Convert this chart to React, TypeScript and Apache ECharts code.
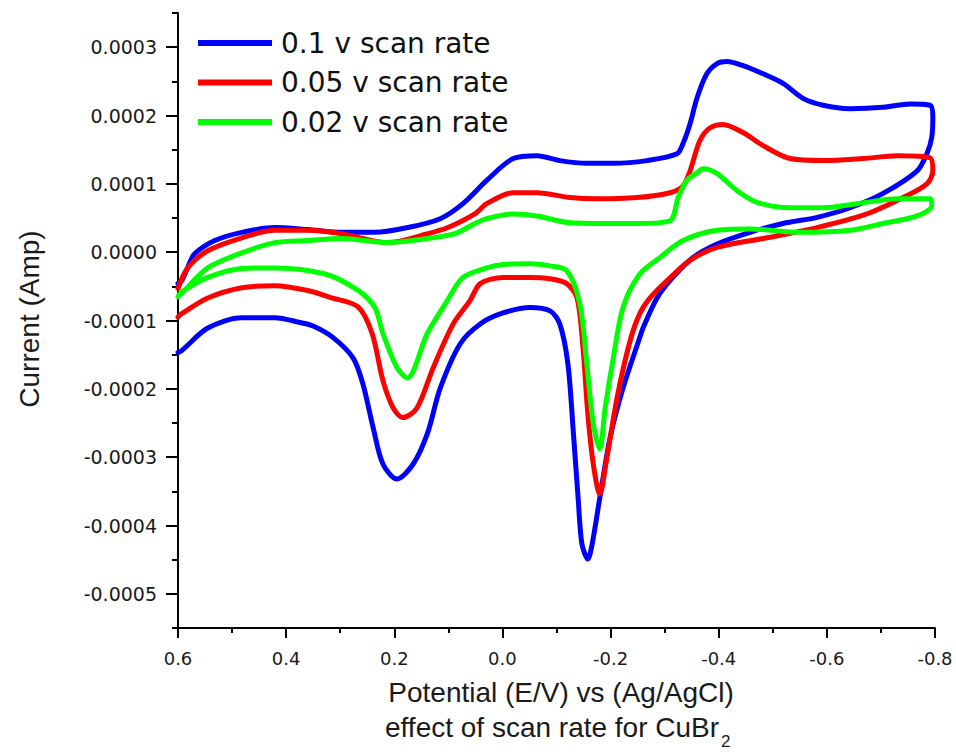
import React, { useEffect, useRef } from 'react';
import * as echarts from 'echarts';

const seriesNames = ['0.1 v scan rate', '0.05 v scan rate', '0.02 v scan rate'];
const seriesColors = ['#0000ff', '#ff0000', '#00ff00'];

// [potential (V), current (A)]
const scan01: [number, number][] = [
  [0.600, -0.46e-4], [0.593, -0.42e-4], [0.578, -0.15e-4], [0.569, -0.02e-4], [0.532, 0.17e-4],
  [0.482, 0.29e-4], [0.421, 0.36e-4], [0.360, 0.33e-4], [0.297, 0.29e-4], [0.236, 0.29e-4],
  [0.175, 0.36e-4], [0.115, 0.49e-4], [0.073, 0.71e-4], [0.029, 1.05e-4],
  [-0.020, 1.37e-4], [-0.064, 1.41e-4], [-0.106, 1.34e-4], [-0.156, 1.30e-4], [-0.205, 1.30e-4],
  [-0.267, 1.34e-4], [-0.323, 1.44e-4], [-0.334, 1.59e-4], [-0.347, 1.88e-4], [-0.360, 2.26e-4],
  [-0.378, 2.61e-4], [-0.397, 2.76e-4], [-0.415, 2.79e-4], [-0.445, 2.73e-4], [-0.482, 2.61e-4],
  [-0.519, 2.47e-4], [-0.556, 2.25e-4], [-0.593, 2.15e-4], [-0.643, 2.10e-4], [-0.704, 2.12e-4],
  [-0.754, 2.17e-4], [-0.791, 2.15e-4], [-0.796, 1.97e-4], [-0.794, 1.68e-4], [-0.785, 1.44e-4],
  [-0.767, 1.19e-4], [-0.704, 0.86e-4], [-0.643, 0.65e-4], [-0.582, 0.51e-4], [-0.519, 0.42e-4],
  [-0.458, 0.29e-4], [-0.397, 0.12e-4], [-0.352, -0.08e-4], [-0.315, -0.37e-4], [-0.286, -0.67e-4],
  [-0.260, -1.11e-4], [-0.254, -1.25e-4], [-0.223, -1.99e-4], [-0.199, -2.72e-4], [-0.180, -3.60e-4],
  [-0.166, -4.27e-4], [-0.158, -4.49e-4], [-0.147, -4.27e-4], [-0.140, -3.60e-4], [-0.131, -2.62e-4],
  [-0.121, -1.63e-4], [-0.106, -1.05e-4], [-0.088, -0.86e-4], [-0.051, -0.81e-4], [-0.001, -0.89e-4],
  [0.041, -1.05e-4], [0.078, -1.34e-4], [0.115, -1.99e-4], [0.139, -2.66e-4], [0.165, -3.10e-4],
  [0.195, -3.32e-4], [0.221, -3.10e-4], [0.239, -2.57e-4], [0.258, -1.93e-4], [0.276, -1.55e-4],
  [0.313, -1.25e-4], [0.350, -1.08e-4], [0.374, -1.03e-4], [0.421, -0.96e-4], [0.482, -0.96e-4],
  [0.545, -1.11e-4], [0.593, -1.44e-4], [0.600, -1.47e-4],
];

const scan005: [number, number][] = [
  [0.600, -0.53e-4], [0.582, -0.23e-4], [0.545, 0.02e-4], [0.482, 0.21e-4], [0.421, 0.32e-4],
  [0.360, 0.32e-4], [0.297, 0.27e-4], [0.212, 0.14e-4], [0.138, 0.27e-4], [0.101, 0.36e-4],
  [0.051, 0.56e-4], [0.029, 0.71e-4], [-0.020, 0.87e-4], [-0.064, 0.87e-4], [-0.125, 0.80e-4],
  [-0.175, 0.78e-4], [-0.249, 0.80e-4], [-0.310, 0.87e-4], [-0.334, 0.97e-4], [-0.347, 1.19e-4],
  [-0.365, 1.63e-4], [-0.384, 1.82e-4], [-0.408, 1.87e-4], [-0.445, 1.75e-4], [-0.482, 1.56e-4],
  [-0.532, 1.37e-4], [-0.593, 1.34e-4], [-0.667, 1.37e-4], [-0.730, 1.41e-4], [-0.791, 1.38e-4],
  [-0.796, 1.19e-4], [-0.785, 1.00e-4], [-0.741, 0.80e-4], [-0.674, 0.56e-4], [-0.582, 0.36e-4],
  [-0.489, 0.21e-4], [-0.397, 0.07e-4], [-0.347, -0.12e-4], [-0.304, -0.42e-4], [-0.273, -0.67e-4],
  [-0.254, -0.90e-4], [-0.236, -1.30e-4], [-0.212, -2.13e-4], [-0.193, -3.02e-4], [-0.180, -3.54e-4],
  [-0.168, -3.10e-4], [-0.158, -2.37e-4], [-0.149, -1.40e-4], [-0.138, -0.67e-4], [-0.119, -0.46e-4],
  [-0.088, -0.39e-4], [-0.051, -0.37e-4], [-0.001, -0.37e-4], [0.041, -0.46e-4], [0.060, -0.71e-4],
  [0.091, -1.05e-4], [0.128, -1.69e-4], [0.158, -2.28e-4], [0.184, -2.42e-4], [0.202, -2.28e-4],
  [0.221, -1.88e-4], [0.241, -1.19e-4], [0.267, -0.80e-4], [0.319, -0.66e-4], [0.360, -0.56e-4],
  [0.421, -0.49e-4], [0.482, -0.52e-4], [0.545, -0.67e-4], [0.593, -0.90e-4], [0.600, -0.95e-4],
];

const scan002: [number, number][] = [
  [0.600, -0.65e-4], [0.593, -0.60e-4], [0.545, -0.23e-4], [0.482, -0.01e-4], [0.421, 0.14e-4],
  [0.360, 0.17e-4], [0.297, 0.20e-4], [0.212, 0.14e-4], [0.138, 0.20e-4], [0.088, 0.27e-4],
  [0.051, 0.42e-4], [0.029, 0.49e-4], [-0.020, 0.56e-4], [-0.064, 0.53e-4], [-0.125, 0.43e-4],
  [-0.186, 0.42e-4], [-0.249, 0.42e-4], [-0.310, 0.46e-4], [-0.325, 0.80e-4], [-0.341, 1.05e-4],
  [-0.360, 1.16e-4], [-0.371, 1.22e-4], [-0.397, 1.15e-4], [-0.434, 0.90e-4], [-0.471, 0.73e-4],
  [-0.532, 0.65e-4], [-0.593, 0.65e-4], [-0.656, 0.71e-4], [-0.730, 0.78e-4], [-0.791, 0.78e-4],
  [-0.794, 0.68e-4], [-0.767, 0.53e-4], [-0.704, 0.42e-4], [-0.643, 0.32e-4], [-0.550, 0.29e-4],
  [-0.458, 0.34e-4], [-0.397, 0.32e-4], [-0.334, 0.17e-4], [-0.291, -0.08e-4], [-0.254, -0.32e-4],
  [-0.223, -0.81e-4], [-0.205, -1.55e-4], [-0.190, -2.28e-4], [-0.180, -2.88e-4], [-0.168, -2.51e-4],
  [-0.156, -1.63e-4], [-0.143, -0.75e-4], [-0.119, -0.27e-4], [-0.088, -0.20e-4], [-0.051, -0.17e-4],
  [-0.001, -0.18e-4], [0.029, -0.23e-4], [0.073, -0.37e-4], [0.102, -0.71e-4], [0.139, -1.19e-4],
  [0.176, -1.84e-4], [0.195, -1.69e-4], [0.221, -1.19e-4], [0.236, -0.81e-4], [0.267, -0.56e-4],
  [0.328, -0.32e-4], [0.421, -0.23e-4], [0.482, -0.24e-4], [0.545, -0.37e-4], [0.593, -0.58e-4],
  [0.600, -0.65e-4],
];

const yMajorTicks = [-0.0005, -0.0004, -0.0003, -0.0002, -0.0001, 0, 0.0001, 0.0002, 0.0003];
const xTitle = 'Potential (E/V) vs (Ag/AgCl)';
const xSubtitle = 'effect of scan rate for CuBr';
const yTitle = 'Current (Amp)';

export default function App() {
  const ref = useRef<HTMLDivElement>(null);
  useEffect(() => {
    if (!ref.current) return;
    const chart = echarts.init(ref.current, undefined, { renderer: 'svg' });
    const axisColor = '#000';
    const labelFont = { fontFamily: '"DejaVu Sans", Verdana, sans-serif', color: '#1a1a1a' };
    const titleFont = '"Liberation Sans", Arial, sans-serif';
    const datasets = [scan01, scan005, scan002];
    chart.setOption({
      animation: false,
      backgroundColor: '#fff',
      grid: { left: 178, right: 21, top: 13, bottom: 124, containLabel: false },
      legend: {
        data: seriesNames,
        orient: 'vertical',
        left: 198,
        top: 29,
        padding: 0,
        icon: 'rect',
        itemWidth: 74,
        itemHeight: 6,
        itemGap: 11.5,
        textStyle: { ...labelFont, color: '#111', fontSize: 28, padding: [0, 0, 0, 4] },
      },
      xAxis: {
        type: 'value',
        inverse: true,
        min: -0.8,
        max: 0.6,
        interval: 0.2,
        axisLine: { show: true, onZero: false, lineStyle: { color: axisColor, width: 2 } },
        axisTick: { show: true, length: 10, lineStyle: { color: axisColor, width: 2 } },
        minorTick: { show: true, splitNumber: 2, length: 5, lineStyle: { color: axisColor, width: 2 } },
        splitLine: { show: false },
        minorSplitLine: { show: false },
        axisLabel: {
          ...labelFont,
          fontSize: 18,
          margin: 21,
          formatter: (v: number) => (Math.abs(v) < 1e-9 ? '0.0' : v.toFixed(1)),
        },
      },
      yAxis: [
        {
          type: 'value',
          position: 'left',
          min: -0.00055,
          max: 0.00035,
          axisLine: { show: true, onZero: false, lineStyle: { color: axisColor, width: 2 } },
          axisTick: { show: true, length: 12, customValues: yMajorTicks, lineStyle: { color: axisColor, width: 2 } },
          splitLine: { show: false },
          axisLabel: {
            ...labelFont,
            fontSize: 19,
            margin: 21,
            customValues: yMajorTicks,
            formatter: (v: number) => (Math.abs(v) < 1e-12 ? '0.0000' : v.toFixed(4)),
          },
        },
        {
          type: 'value',
          position: 'left',
          offset: 0,
          min: -0.00055,
          max: 0.00035,
          interval: 0.00005,
          axisLine: { show: false, onZero: false },
          axisTick: { show: true, length: 6, lineStyle: { color: axisColor, width: 2 } },
          axisLabel: { show: false },
          splitLine: { show: false },
        },
      ],
      graphic: [
        {
          type: 'text',
          x: 29.5,
          y: 319,
          rotation: Math.PI / 2,
          style: { text: yTitle, font: `28px ${titleFont}`, fill: '#1a1a1a', align: 'center', verticalAlign: 'middle' },
        },
        {
          type: 'text',
          x: 561,
          y: 692,
          style: { text: xTitle, font: `28px ${titleFont}`, fill: '#1a1a1a', align: 'center', verticalAlign: 'middle' },
        },
        {
          type: 'text',
          x: 385,
          y: 727,
          style: { text: xSubtitle, font: `28px ${titleFont}`, fill: '#1a1a1a', align: 'left', verticalAlign: 'middle' },
        },
        {
          type: 'text',
          x: 721,
          y: 741,
          style: { text: '2', font: `17px ${titleFont}`, fill: '#1a1a1a', align: 'left', verticalAlign: 'middle' },
        },
      ],
      series: datasets.map((d, i) => ({
        name: seriesNames[i],
        type: 'line',
        yAxisIndex: 0,
        data: d,
        symbol: 'none',
        showSymbol: false,
        smooth: 0.3,
        clip: true,
        z: 2 + i,
        color: seriesColors[i],
        itemStyle: { color: seriesColors[i] },
        lineStyle: { color: seriesColors[i], width: 5, cap: 'round', join: 'round' },
      })),
    });
    return () => chart.dispose();
  }, []);
  return <div ref={ref} style={{ position: 'absolute', left: 0, top: 0, width: 956, height: 752, background: '#fff' }} />;
}
